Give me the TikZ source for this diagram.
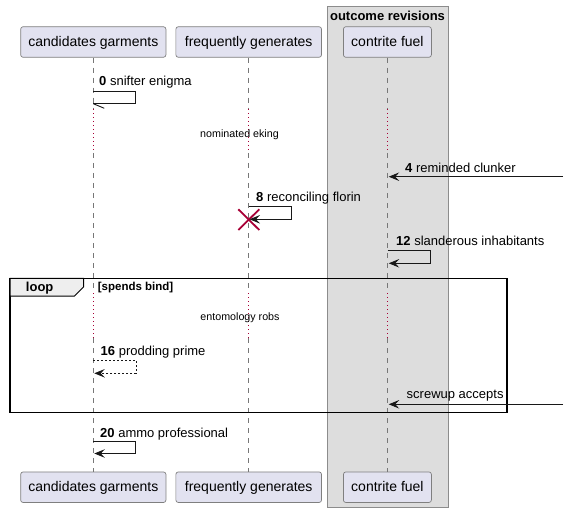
\documentclass[tikz,border=0pt]{standalone}
\usepackage{fontspec}
\setmainfont{Liberation Sans}
\usetikzlibrary{arrows.meta}
\definecolor{partfill}{HTML}{E2E2F0}
\definecolor{partdraw}{HTML}{7F7F7F}
\definecolor{boxfill}{HTML}{DDDDDD}
\definecolor{boxdraw}{HTML}{8C8C8C}
\definecolor{lifecol}{HTML}{777777}
\definecolor{delaycol}{HTML}{A80036}
\definecolor{msgcol}{HTML}{181818}
\definecolor{tabfill}{HTML}{EEEEEE}
\begin{document}
\begin{tikzpicture}[x=1pt,y=-1pt,
  part/.style={draw=partdraw, fill=partfill, rounded corners=2.5pt, line width=0.7pt,
    minimum height=30.6pt, inner sep=0pt, text height=10pt, text depth=1pt,
    font=\fontsize{14}{16}\selectfont},
  life/.style={draw=lifecol, line width=0.8pt, dash pattern=on 5pt off 5pt},
  delayline/.style={draw=delaycol, line width=0.9pt, dash pattern=on 1pt off 3pt},
  msg/.style={draw=msgcol, line width=0.9pt},
  head/.style={-{Stealth[length=10.5pt,width=8.5pt,inset=4pt]}},
  lbl/.style={anchor=west, inner sep=0pt, font=\fontsize{13}{15}\selectfont},
  dlbl/.style={inner sep=0pt, font=\fontsize{10.7}{12}\selectfont},
  xmark/.style={draw=delaycol, line width=1.8pt},
]
\useasboundingbox (0,0) rectangle (567,513);
% group box
\draw[fill=boxfill, draw=boxdraw, line width=0.9pt] (327,6) rectangle (448,507.5);
\node[inner sep=0pt, font=\bfseries\fontsize{13}{15}\selectfont] (gtitle) at (387.5,15.5) {outcome revisions};
% participants
\node[part, minimum width=145.3pt] (p1) at (93.3,42) {candidates garments};
\node[part, minimum width=145.7pt] (p2) at (248.7,42) {frequently generates};
\node[part, minimum width=88pt] (p3) at (387.4,42) {contrite fuel};
\node[part, minimum width=145.3pt] (p1b) at (93.3,487.2) {candidates garments};
\node[part, minimum width=145.7pt] (p2b) at (248.7,487.2) {frequently generates};
\node[part, minimum width=88pt] (p3b) at (387.4,487.2) {contrite fuel};
% delay levels
\coordinate (dA) at (0,109);
\coordinate (dB) at (0,153);
\coordinate (dC) at (0,293);
\coordinate (dD) at (0,338);
\foreach \p in {p1,p2,p3}{
  \draw[life] (\p.south) -- (\p.south |- dA);
  \draw[delayline] (\p.south |- dA) -- (\p.south |- dB);
  \draw[life] (\p.south |- dB) -- (\p.south |- dC);
  \draw[delayline] (\p.south |- dC) -- (\p.south |- dD);
  \draw[life] (\p.south |- dD) -- (\p b.north);
}
\node[dlbl] (delay1) at (239.5,135) {nominated eking};
\node[dlbl] (delay2) at (240,318) {entomology robs};
% loop frame
\draw[line width=1.5pt] (10,278.3) rectangle (507,412.7);
\draw[fill=tabfill, line width=1pt] (10,278.3) -- (83.5,278.3) -- (83.5,287) -- (74.5,296) -- (10,296) -- cycle;
\node[inner sep=0pt, font=\bfseries\fontsize{13}{15}\selectfont] (looplbl) at (39.7,288) {loop};
\node[anchor=west, inner sep=0pt, font=\bfseries\fontsize{11.5}{13}\selectfont] (guard) at (97.7,288) {[spends bind]};
% message 0
\coordinate (m0a) at (93.3,91.7);
\coordinate (m0b) at (135.3,91.7);
\coordinate (m0c) at (135.3,103.7);
\coordinate (m0d) at (93.3,103.7);
\coordinate (m0e) at (104.3,108.3);
\draw[msg] (m0a) -- (m0b) -- (m0c) -- (m0d);
\draw[msg] (m0d) -- (m0e);
\node[lbl] (l0) at (99,82.5) {\textbf{0} snifter enigma};
% message 4
\coordinate (m4a) at (563,176.7);
\coordinate (m4b) at (388.7,176.7);
\draw[msg,head] (m4a) -- (m4b);
\node[lbl] (l4) at (405,168) {\textbf{4} reminded clunker};
% message 8 with destroy
\coordinate (m8a) at (248.5,206.7);
\coordinate (m8b) at (291,206.7);
\coordinate (m8c) at (291,219.3);
\coordinate (m8d) at (249.5,219.3);
\coordinate (x1) at (238.3,209.3);
\coordinate (x2) at (259.3,230);
\coordinate (x3) at (238.3,230);
\coordinate (x4) at (259.3,209.3);
\draw[xmark] (x1) -- (x2);
\draw[xmark] (x3) -- (x4);
\draw[msg,head] (m8a) -- (m8b) -- (m8c) -- (m8d);
\node[lbl] (l8) at (256,198) {\textbf{8} reconciling florin};
% message 12
\coordinate (m12a) at (387.7,250.3);
\coordinate (m12b) at (430,250.3);
\coordinate (m12c) at (430,263.3);
\coordinate (m12d) at (388.7,263.3);
\draw[msg,head] (m12a) -- (m12b) -- (m12c) -- (m12d);
\node[lbl] (l12) at (396,240.5) {\textbf{12} slanderous inhabitants};
% message 16
\coordinate (m16a) at (93.3,360);
\coordinate (m16b) at (136,360);
\coordinate (m16c) at (136,373.3);
\coordinate (m16d) at (94.3,373.3);
\draw[msg,head,dash pattern=on 2pt off 2pt] (m16a) -- (m16b) -- (m16c) -- (m16d);
\node[lbl] (l16) at (100.5,352) {\textbf{16} prodding prime};
% screwup accepts
\coordinate (msa) at (563,404.3);
\coordinate (msb) at (388.7,404.3);
\draw[msg,head] (msa) -- (msb);
\node[lbl] (ls) at (406.5,395.5) {screwup accepts};
% message 20
\coordinate (m20a) at (93.3,441.5);
\coordinate (m20b) at (135.3,441.5);
\coordinate (m20c) at (135.3,453.5);
\coordinate (m20d) at (94.3,453.5);
\draw[msg,head] (m20a) -- (m20b) -- (m20c) -- (m20d);
\node[lbl] (l20) at (100,434.5) {\textbf{20} ammo professional};
\end{tikzpicture}
\end{document}
